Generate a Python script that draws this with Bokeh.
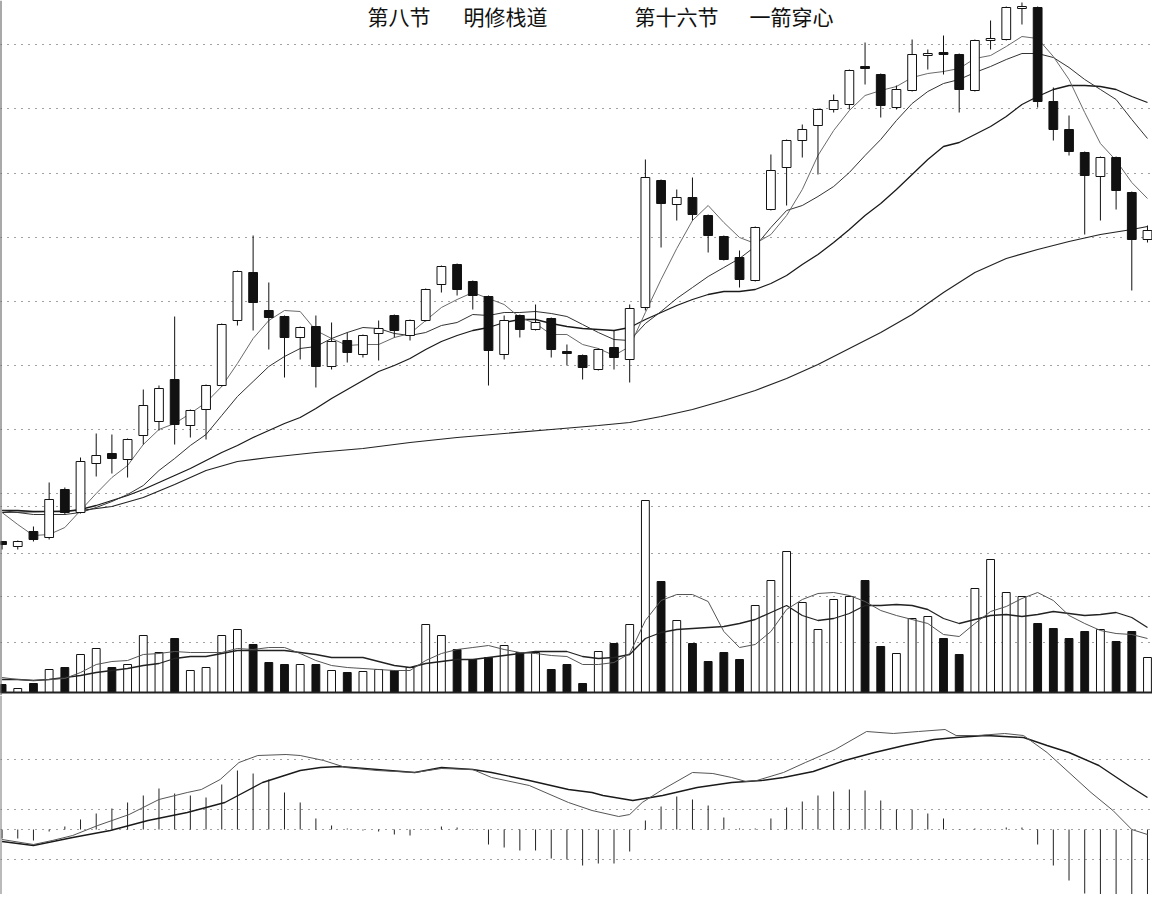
from bokeh.plotting import figure
from bokeh.models import Range1d, FixedTicker, Grid, Span, Label, ColumnDataSource
from bokeh.layouts import column
from bokeh.embed import file_html
from bokeh.resources import INLINE

# ---------------- data (arbitrary price units) ----------------
opens = [5.1, 4.6, 6.1, 5.5, 10.3, 8.0, 12.9, 13.9, 13.3, 15.7,
         17.1, 21.3, 16.7, 18.3, 20.7, 27.2, 32.0, 28.2, 27.6, 25.5,
         26.6, 22.6, 25.2, 23.8, 25.9, 27.7, 25.7, 27.2, 30.8, 32.8,
         31.1, 29.6, 23.8, 27.7, 26.3, 27.4, 24.1, 23.7, 22.3, 24.5,
         23.3, 28.5, 41.2, 38.8, 39.5, 37.7, 35.6, 33.5, 31.2, 38.3,
         42.5, 45.2, 46.7, 48.3, 48.8, 52.6, 51.8, 48.5, 50.2, 53.7,
         54.0, 53.8, 50.2, 55.2, 55.3, 58.4, 58.5, 49.1, 46.3, 44.0,
         41.6, 43.5, 40.0, 35.3]
closes = [4.8, 5.1, 5.3, 9.3, 8.0, 13.1, 13.7, 13.4, 15.3, 18.7,
          20.4, 16.8, 18.2, 20.7, 26.8, 32.1, 29.0, 27.5, 25.5, 26.5,
          22.6, 25.1, 24.0, 25.7, 26.4, 26.2, 27.2, 30.3, 32.6, 30.3,
          29.7, 24.2, 27.2, 26.3, 27.0, 24.3, 23.9, 22.5, 24.3, 23.5,
          28.4, 41.5, 38.9, 39.5, 37.8, 35.7, 33.3, 31.3, 36.5, 42.2,
          45.2, 46.3, 48.3, 49.2, 52.2, 52.4, 48.7, 50.3, 53.8, 53.9,
          53.8, 50.3, 55.2, 55.4, 58.5, 58.6, 49.1, 46.3, 44.1, 41.7,
          43.5, 40.2, 35.3, 36.2]
highs = [5.1, 5.2, 6.6, 11.0, 10.5, 13.5, 15.9, 15.8, 15.4, 20.3,
         20.7, 27.6, 18.3, 20.8, 26.9, 32.2, 35.7, 31.0, 27.7, 26.6,
         27.7, 27.0, 26.0, 25.8, 27.2, 27.8, 27.3, 30.4, 32.7, 32.9,
         31.2, 29.7, 27.7, 27.8, 28.8, 27.5, 24.8, 23.8, 24.4, 26.2,
         28.8, 43.3, 41.3, 40.3, 41.5, 37.8, 35.7, 34.2, 36.6, 43.8,
         45.3, 46.8, 48.4, 49.8, 52.3, 55.0, 51.9, 50.7, 55.3, 54.3,
         55.7, 53.9, 55.3, 57.2, 58.6, 59.0, 58.6, 50.5, 47.7, 44.1,
         43.6, 43.6, 40.1, 36.7]
lows = [4.3, 4.3, 5.1, 5.3, 7.8, 7.9, 11.6, 11.9, 11.5, 14.8,
        16.2, 14.8, 15.5, 15.3, 20.6, 26.7, 26.2, 24.3, 21.5, 23.3,
        20.5, 22.3, 23.0, 23.5, 23.2, 25.5, 25.2, 27.1, 30.0, 29.7,
        28.3, 20.7, 23.3, 25.5, 26.2, 23.5, 22.7, 21.3, 22.2, 22.3,
        21.0, 28.2, 34.5, 37.2, 37.2, 34.0, 33.2, 30.5, 31.1, 38.2,
        38.7, 43.5, 41.8, 48.0, 48.3, 50.8, 47.5, 48.3, 50.1, 52.3,
        51.8, 48.0, 50.1, 54.3, 55.2, 56.8, 48.5, 45.2, 43.7, 35.8,
        37.2, 38.3, 30.2, 35.0]

ma5 = [8.0, 6.8, 5.7, 5.8, 6.5, 8.2, 9.9, 11.5, 12.7, 14.8,
       16.3, 16.9, 17.9, 19.0, 20.6, 22.9, 25.4, 27.2, 28.2, 28.1,
       26.2, 25.4, 24.7, 24.8, 24.8, 25.5, 25.9, 27.2, 28.5, 29.3,
       30.0, 29.4, 28.8, 27.5, 26.9, 25.8, 25.8, 24.8, 24.4, 23.7,
       24.6, 28.0, 31.3, 34.4, 37.2, 38.7, 37.0, 35.5, 34.9, 35.8,
       37.7, 40.3, 43.7, 46.2, 48.2, 49.7, 50.2, 50.6, 51.5, 51.9,
       52.1, 52.4, 53.4, 53.7, 54.6, 55.6, 55.4, 53.6, 51.3, 48.0,
       44.9, 43.2, 41.0, 39.4]
ma10 = [8.2, 8.0, 7.8, 7.8, 7.8, 8.0, 8.5, 9.1, 9.8, 10.7,
        12.2, 13.4, 14.7, 15.8, 17.7, 19.6, 21.1, 22.6, 23.6, 24.4,
        24.6, 25.4, 26.0, 26.5, 26.4, 25.9, 25.7, 26.0, 26.7, 27.0,
        27.8, 27.7, 28.0, 28.0, 28.1, 27.9, 27.6, 26.8, 26.0, 25.3,
        25.2, 26.9, 28.1, 29.4, 30.5, 31.6, 32.5, 33.4, 34.6, 36.5,
        38.2, 38.7, 39.6, 40.6, 42.0, 43.7, 45.3, 47.2, 48.9, 50.1,
        50.9, 51.3, 52.0, 52.6, 53.3, 53.9, 53.9, 53.5, 52.5, 51.3,
        50.3, 49.3, 47.3, 45.4]
ma20 = [8.2, 8.2, 8.1, 8.1, 8.1, 8.3, 8.7, 9.2, 9.7, 10.3,
        11.0, 11.7, 12.4, 13.2, 14.0, 14.7, 15.5, 16.2, 16.9, 17.5,
        18.4, 19.4, 20.3, 21.2, 22.1, 22.7, 23.4, 24.3, 25.1, 25.7,
        26.2, 26.5, 27.0, 27.3, 27.3, 26.9, 26.6, 26.4, 26.3, 26.2,
        26.5, 27.3, 28.0, 28.7, 29.3, 29.8, 30.1, 30.1, 30.3, 30.9,
        31.7, 32.8, 33.8, 35.0, 36.3, 37.7, 38.9, 40.3, 41.8, 43.3,
        44.6, 45.0, 45.8, 46.6, 47.6, 48.8, 49.6, 50.3, 50.7, 50.7,
        50.6, 50.3, 49.6, 49.0]
ma60_day = [0, 3, 5, 7, 9, 11, 13, 15, 17, 20, 23, 26, 29, 32, 35, 38, 40,
            42, 44, 46, 48, 50, 52, 54, 56, 58, 60, 62, 64, 66, 68, 70, 72, 73]
ma60 = [8.0, 8.1, 8.2, 8.6, 9.5, 10.8, 12.2, 13.1, 13.5, 14.0, 14.4, 15.0,
        15.5, 15.9, 16.3, 16.7, 17.0, 17.6, 18.3, 19.2, 20.2, 21.4, 22.8,
        24.4, 26.0, 27.8, 30.0, 32.0, 33.4, 34.3, 35.1, 35.8, 36.3, 36.6]

volume = [0.8, 0.4, 0.9, 2.3, 2.5, 3.8, 4.4, 2.5, 2.8, 5.7,
          4.0, 5.4, 2.2, 2.5, 5.7, 6.3, 4.8, 3.0, 2.8, 2.8,
          2.8, 2.2, 2.0, 2.1, 2.3, 2.2, 2.5, 6.8, 5.7, 4.3,
          3.3, 3.5, 4.7, 4.0, 4.0, 2.3, 2.8, 0.9, 4.1, 4.9,
          6.8, 19.2, 11.1, 7.2, 4.9, 3.1, 4.0, 3.3, 8.7, 11.2,
          14.1, 9.0, 6.3, 9.3, 9.6, 11.2, 4.6, 3.9, 7.4, 7.6,
          5.4, 3.8, 10.4, 13.3, 10.0, 9.6, 6.9, 6.4, 5.4, 6.1,
          6.3, 5.1, 6.1, 3.5]
vol_ma5 = [1.5, 1.3, 1.2, 1.3, 1.4, 2.0, 2.8, 3.1, 3.2, 3.8,
           3.9, 4.1, 4.0, 4.0, 4.0, 4.4, 4.3, 4.5, 4.5, 3.9,
           3.2, 2.7, 2.5, 2.4, 2.3, 2.2, 2.2, 3.2, 3.9, 4.3,
           4.5, 4.7, 4.3, 4.0, 3.9, 3.7, 3.6, 2.8, 2.8, 3.0,
           3.9, 7.2, 9.2, 9.8, 9.8, 9.1, 6.1, 4.5, 4.8, 6.1,
           8.3, 9.3, 9.9, 10.0, 9.7, 9.1, 8.2, 7.7, 7.3, 6.9,
           5.8, 5.6, 6.9, 8.1, 8.6, 9.4, 10.0, 9.2, 7.7, 6.9,
           6.2, 5.9, 5.8, 5.4]
vol_ma10 = [1.3, 1.3, 1.2, 1.3, 1.5, 1.7, 2.0, 2.2, 2.4, 2.7,
            2.9, 3.4, 3.6, 3.6, 3.9, 4.2, 4.2, 4.2, 4.2, 4.0,
            3.8, 3.5, 3.5, 3.5, 3.1, 2.7, 2.5, 2.9, 3.1, 3.3,
            3.3, 3.5, 3.7, 3.9, 4.1, 4.1, 4.1, 3.6, 3.4, 3.5,
            3.8, 5.4, 6.0, 6.3, 6.4, 6.5, 6.6, 6.9, 7.3, 8.0,
            8.7, 7.7, 7.2, 7.4, 7.9, 8.7, 8.7, 8.8, 8.7, 8.3,
            7.4, 6.9, 7.3, 7.7, 7.8, 7.6, 7.8, 8.1, 7.9, 7.7,
            7.8, 8.0, 7.5, 6.5]

macd_hist = [-0.9, -0.9, -1.1, -0.2, 0.3, 1.0, 1.6, 2.1, 2.7, 3.4,
             4.1, 3.6, 3.4, 3.2, 4.5, 5.9, 5.6, 5.0, 3.7, 2.7,
             1.1, 0.4, 0.1, -0.1, -0.2, -0.5, -0.6, 0.05, 0.3, 0.2,
             0.05, -1.5, -1.8, -2.1, -2.1, -2.9, -3.0, -3.6, -3.4, -3.4,
             -2.2, 0.9, 2.3, 3.3, 3.0, 2.4, 1.2, 0.1, 0.1, 1.1,
             2.2, 2.8, 3.4, 3.8, 4.0, 3.9, 2.9, 2.0, 2.0, 1.6,
             1.1, 0.05, 0.1, 0.05, 0.2, 0.2, -1.5, -3.6, -5.1, -6.4,
             -6.9, -7.1, -7.1, -6.9]
dif_day = [0, 2, 3.2, 4.5, 6.1, 8.1, 10, 11.8, 12.7, 13.9,
           15.1, 16.3, 18.1, 19, 20.5, 21.9, 23.9, 25.1, 26.3, 28,
           30, 31.2, 33.6, 36.1, 37.6, 39.3, 40, 40.8, 42.1, 44,
           45.3, 46.5, 47.4, 48.1, 49.8, 51.2, 53.1, 55.1, 56.8, 58.4,
           60.1, 60.8, 62.2, 63.9, 65.1, 66.6, 68, 69.4, 70.8, 72, 73]
dif = [-1.0, -1.5, -1.1, -0.6, 0.4, 1.5, 3.0, 3.7, 4.0, 5.0,
       6.7, 7.4, 7.5, 7.4, 6.9, 6.2, 5.9, 5.8, 5.7, 6.1,
       6.0, 5.2, 4.4, 2.7, 1.9, 1.3, 1.5, 2.7, 4.0, 5.7,
       5.6, 5.2, 4.8, 4.9, 5.7, 6.7, 8.0, 9.8, 9.6, 9.8,
       10.0, 9.4, 9.4, 9.6, 9.4, 7.7, 5.7, 3.7, 1.9, 0.0, -0.5]
dea_day = [0, 2, 4.5, 6.9, 9.3, 11.8, 14.2, 16.6, 19, 20.3,
           21.5, 23.9, 26.3, 28, 30, 31.2, 33.6, 36.1, 37.6, 38.3,
           40.2, 42.1, 44.3, 46.5, 48.4, 49.8, 51.7, 53.7, 55.6, 57.5,
           59.4, 60.8, 62.7, 65.1, 66.6, 68, 69.9, 71.8, 73]
dea = [-1.2, -1.6, -0.8, -0.1, 0.9, 1.7, 2.7, 4.7, 5.9, 6.2,
       6.3, 6.0, 5.7, 6.2, 6.0, 5.7, 4.9, 4.0, 3.7, 3.4,
       2.9, 3.4, 4.2, 4.7, 4.9, 5.2, 5.8, 6.9, 7.7, 8.4,
       9.0, 9.2, 9.4, 9.2, 8.4, 7.7, 6.4, 4.4, 3.2]

title_texts = ["第八节", "明修栈道", "第十六节", "一箭穿心"]

price_grid = [54.8, 48.4, 41.9, 35.5, 29.1, 22.7, 16.3, 9.9, 8.6, 3.9]
volume_grid = [5.0, 9.6]
macd_grid = [7.0, 2.0, 0.0, -3.0]

# ---------------- drawing ----------------
n = len(closes)
days = list(range(n))
is_up = [c >= o for o, c in zip(opens, closes)]
INK = "#111111"

src = ColumnDataSource(dict(
    x=days, high=highs, low=lows,
    top=[max(o, c) for o, c in zip(opens, closes)],
    bottom=[min(o, c) for o, c in zip(opens, closes)],
    fill=["white" if u else INK for u in is_up],
    vol=volume,
))

W = 1152
H1 = 695
H2 = 199
xr = Range1d(-0.1, 73.32)

p = figure(width=W, height=H1, x_range=xr, y_range=Range1d(-10.3, 59.2),
           x_axis_type=None, y_axis_type=None, output_backend="svg",
           toolbar_location=None, min_border=0, outline_line_color=None,
           background_fill_color="white", border_fill_color="white")
p.extra_y_ranges = {"vol": Range1d(-0.3, 69.2)}

dot = "1 6"
p.add_layout(Grid(dimension=1, ticker=FixedTicker(ticks=price_grid),
                  grid_line_color="#444444", grid_line_dash=dot, grid_line_width=1))
p.add_layout(Grid(dimension=1, ticker=FixedTicker(ticks=volume_grid), y_range_name="vol",
                  grid_line_color="#444444", grid_line_dash=dot, grid_line_width=1))
p.add_layout(Span(location=0, dimension="width", y_range_name="vol",
                  line_color="#222222", line_width=2))
p.add_layout(Span(location=-0.1, dimension="height", line_color="#555555", line_width=2))

# moving averages
p.line(ma60_day, ma60, line_color="#222222", line_width=1.2)
p.line(days, ma20, line_color="#1a1a1a", line_width=1.3)
p.line(days, ma10, line_color="#333333", line_width=1)
p.line(days, ma5, line_color="#6a6a6a", line_width=1)

# candles
p.segment(x0="x", y0="low", x1="x", y1="high", source=src, line_color=INK, line_width=1)
p.vbar(x="x", width=0.56, top="top", bottom="bottom", fill_color="fill",
       line_color=INK, line_width=1, source=src)

# volume
p.vbar(x="x", width=0.5, top="vol", bottom=0, fill_color="fill", line_color=INK,
       line_width=1, source=src, y_range_name="vol")
p.line(days, vol_ma10, line_color="#222222", line_width=1.3, y_range_name="vol")
p.line(days, vol_ma5, line_color="#555555", line_width=1, y_range_name="vol")

# titles
for txt, sx in zip(title_texts, [367, 463, 634, 749]):
    p.add_layout(Label(x=sx, y=H1 - 15, x_units="screen", y_units="screen", text=txt,
                       text_font="Noto Sans CJK SC", text_font_size="21px",
                       text_baseline="middle", text_align="left", text_color="#111111"))

# MACD panel
q = figure(width=W, height=H2, x_range=xr, y_range=Range1d(-6.5, 13.4),
           x_axis_type=None, y_axis_type=None, output_backend="svg",
           toolbar_location=None, min_border=0, outline_line_color=None,
           background_fill_color="white", border_fill_color="white")
q.add_layout(Grid(dimension=1, ticker=FixedTicker(ticks=macd_grid),
                  grid_line_color="#444444", grid_line_dash=dot, grid_line_width=1))
q.add_layout(Span(location=-0.1, dimension="height", line_color="#777777", line_width=2))
q.segment(x0=days, y0=[0] * n, x1=days, y1=macd_hist, line_color="#222222", line_width=1)
q.line(dea_day, dea, line_color="#1a1a1a", line_width=1.4)
q.line(dif_day, dif, line_color="#555555", line_width=1)

layout = column(p, q, spacing=0)
open("out.html", "w").write(file_html(layout, INLINE, title="chart"))
